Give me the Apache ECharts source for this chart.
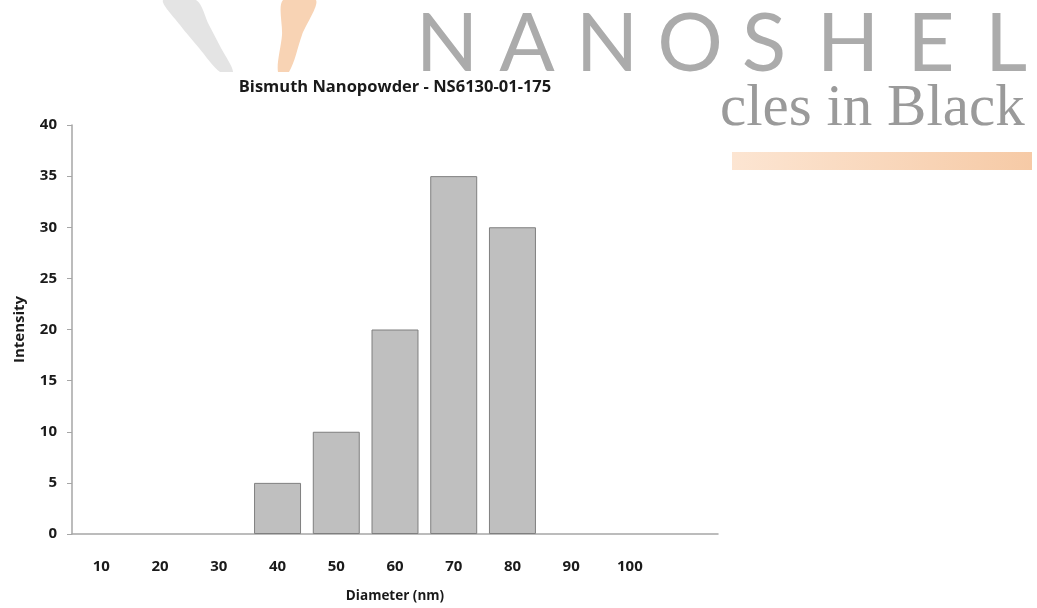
<!DOCTYPE html>
<html>
<head>
<meta charset="utf-8">
<script src="https://cdn.jsdelivr.net/npm/echarts@6/dist/echarts.min.js"></script>
<style>html,body{margin:0;padding:0;background:#fff;}#c{width:1037px;height:608px;}</style>
</head>
<body>
<div id="c"></div>
<script>
const categories = ['10','20','30','40','50','60','70','80','90','100',''];
const intensity = [0, 0, 0, 5, 10, 20, 35, 30, 0, 0, null];
const yTicks = {min: 0, max: 40, interval: 5};
const titleText = 'Bismuth Nanopowder - NS6130-01-175';
const xName = 'Diameter (nm)';
const yName = 'Intensity';
const brandLetters = ['N','A','N','O','S','H','E','L'];
const brandCenters = [447, 527, 607, 690, 764, 848, 931, 1006];

const chart = echarts.init(document.getElementById('c'), null, {renderer: 'canvas'});
const graphics = [
  {type:'polygon', z:-3, shape:{points:[[163,0],[180,25],[199,48],[220,72],[233,72],[221,48],[209,25],[196,0]], smooth:0.3}, style:{fill:'#e4e4e4'}},
  {type:'polygon', z:-3, shape:{points:[[283,0],[282,35],[278,72],[289,72],[302,35],[316,0]], smooth:0.3}, style:{fill:'#f8d3b4'}},
  {type:'rect', z:-1, shape:{x:0, y:72, width:722, height:536}, style:{fill:'#ffffff'}},
  {type:'rect', z:-2, shape:{x:732, y:152, width:300, height:18},
    style:{fill:new echarts.graphic.LinearGradient(0,0,1,0,[{offset:0,color:'#fce5d2'},{offset:1,color:'#f6caa6'}])}},
  {type:'text', z:-2, x:720, y:139, style:{text:'cles in Black', font:'59px "Liberation Serif"', fill:'#9a9a9a', textVerticalAlign:'bottom', textAlign:'left'}}
];
brandLetters.forEach((ch, i) => {
  graphics.push({type:'text', z:-3, x:brandCenters[i], y:86,
    style:{text:ch, font:'82px Lato', fill:'#ababab', textAlign:'center', textVerticalAlign:'bottom'}});
});

const labelFont = {fontFamily:'Open Sans', fontWeight:'bold', color:'#1a1a1a'};

chart.setOption({
  backgroundColor:'#ffffff',
  animation:false,
  title:{text:titleText, left:390, top:74, textAlign:'center',
    textStyle:Object.assign({fontSize:16.5}, labelFont)},
  graphic: graphics,
  grid:{left:72, right:319, top:125, bottom:72, containLabel:false},
  xAxis:{type:'category', data:categories, name:xName, nameLocation:'middle', nameGap:55,
    nameTextStyle:Object.assign({fontSize:13.5}, labelFont),
    axisLine:{lineStyle:{color:'#a6a6a6', width:1.5}}, axisTick:{show:false},
    axisLabel:Object.assign({margin:25, fontSize:15, interval:0}, labelFont)},
  yAxis:{type:'value', min:yTicks.min, max:yTicks.max, interval:yTicks.interval,
    name:yName, nameLocation:'middle', nameGap:45, nameRotate:90,
    nameTextStyle:Object.assign({fontSize:15}, labelFont),
    axisLine:{show:true, lineStyle:{color:'#a6a6a6', width:1.5}},
    axisTick:{show:true, length:5, lineStyle:{color:'#a6a6a6'}},
    splitLine:{show:false},
    axisLabel:Object.assign({margin:15, fontSize:15}, labelFont)},
  series:[{type:'bar', data:intensity.map(v => v === 0 ? '-' : v), barCategoryGap:'20%',
    itemStyle:{color:'#bfbfbf', borderColor:'#7f7f7f', borderWidth:1}}]
});
</script>
</body>
</html>
